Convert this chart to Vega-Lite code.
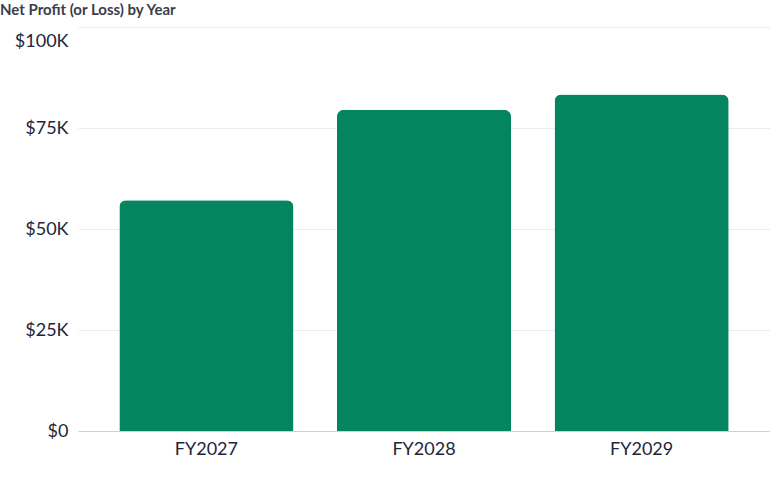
{
  "$schema": "https://vega.github.io/schema/vega-lite/v6.json",
  "width": 692,
  "height": 404,
  "autosize": {"type": "none"},
  "padding": {"left": 78, "top": 27, "right": 0, "bottom": 46},
  "background": "white",
  "title": {
    "text": "Net Profit (or Loss) by Year",
    "anchor": "start",
    "frame": "group",
    "dx": -78,
    "offset": 9,
    "font": "Lato",
    "fontSize": 15,
    "fontWeight": "bold",
    "color": "#3b3d4a"
  },
  "data": {
    "values": [
      {"year": "FY2027", "profit": 57100},
      {"year": "FY2028", "profit": 79500},
      {"year": "FY2029", "profit": 83300}
    ]
  },
  "mark": {"type": "bar", "color": "#04845f", "cornerRadiusTopLeft": 7, "cornerRadiusTopRight": 7},
  "encoding": {
    "x": {
      "field": "year",
      "type": "nominal",
      "scale": {"paddingInner": 0.2, "paddingOuter": 0.19},
      "axis": {
        "title": null,
        "labelAngle": 0,
        "labelFont": "Lato",
        "labelFontSize": 18,
        "labelColor": "#23253a",
        "labelPadding": 9,
        "ticks": false,
        "domainColor": "#cfd0d6",
        "grid": false
      }
    },
    "y": {
      "field": "profit",
      "type": "quantitative",
      "scale": {"domain": [0, 100000]},
      "axis": {
        "title": null,
        "values": [0, 25000, 50000, 75000, 100000],
        "labelExpr": "datum.value == 0 ? '$0' : '$' + (datum.value / 1000) + 'K'",
        "labelFont": "Lato",
        "labelFontSize": 18,
        "labelColor": "#23253a",
        "labelPadding": 10,
        "labelOffset": {"condition": {"test": "datum.value == 100000", "value": 14}, "value": 0},
        "ticks": false,
        "domain": false,
        "gridColor": "#ececf0"
      }
    }
  },
  "config": {"view": {"stroke": null}}
}
